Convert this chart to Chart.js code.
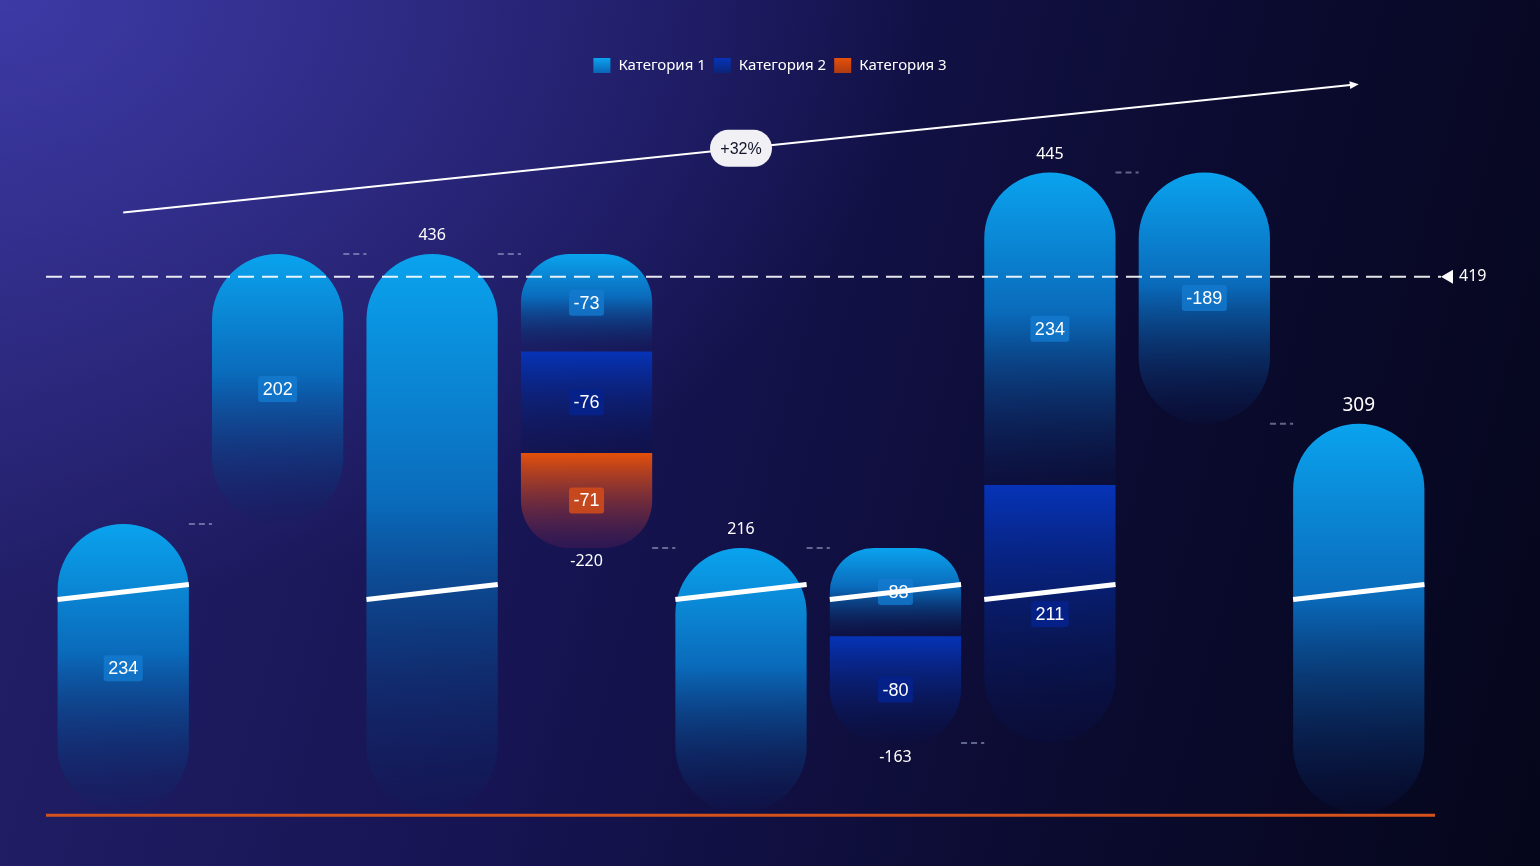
<!DOCTYPE html>
<html lang="ru">
<head>
<meta charset="utf-8">
<title>Водопад по категориям</title>
<script src="https://cdn.jsdelivr.net/npm/chart.js@4.4.1/dist/chart.umd.min.js"></script>
<style>
  html, body { margin: 0; padding: 0; }
  body {
    width: 1540px;
    height: 866px;
    overflow: hidden;
    background:
      radial-gradient(ellipse 60% 70% at 0% 0%, rgba(72, 68, 190, 0.7) 0%, rgba(72, 68, 190, 0) 100%),
      linear-gradient(105deg, #24216c 0%, #161452 40%, #0b0b30 72%, #05061b 100%);
  }
</style>
</head>
<body>
<canvas id="waterfall" width="1540" height="866"></canvas>
<script>
// columns of the waterfall (no axis labels are shown on the picture)
const categories = ['Старт', 'Рост', 'Итог 1', 'Снижение', 'Итог 2', 'Снижение 2', 'Рост 2', 'Снижение 3', 'Итог 3'];

// bar segments as [from, to] (lower part of totals is cut by the axis break)
const cat1Ranges = [[18, 234], [234, 436], [18, 436], [363, 436], [18, 216], [150, 216], [263, 497], [309, 497], [18, 309]];
const cat2Ranges = [null, null, null, [287, 363], null, [70, 150], [70, 263], null, null];
const cat3Ranges = [null, null, null, [216, 287], null, null, null, null, null];

// values written inside the segments
const cat1Labels = ['234', '202', null, '-73', null, '-83', '234', '-189', null];
const cat2Labels = [null, null, null, '-76', null, '-80', '211', null, null];
const cat3Labels = [null, null, null, '-71', null, null, null, null, null];

// totals written above / below the columns
const totalsAbove = [null, null, '436', null, '216', null, '445', null, '309'];
const totalsBelow = [null, null, null, '-220', null, '-163', null, null, null];

// dashed connectors between neighbouring columns
const connectorLevels = [234, 436, 436, 216, 216, 70, 497, 309];

// axis break marks
const breakColumns = [0, 2, 4, 5, 6, 8];
const breakLevel = 183;

// reference line and trend arrow
const refLevel = 419;
const refLabel = '419';
const trendLevels = [467, 563];
const trendLabel = '+32%';
const baseLevel = 16;

const seriesNames = ['Категория 1', 'Категория 2', 'Категория 3'];

const cat1Stops = [[0, '#0aa3ee'], [0.45, '#0a6aba'], [1, 'rgba(10, 36, 96, 0.12)']];
const cat2Stops = [[0, '#0634b8'], [1, 'rgba(8, 18, 70, 0.25)']];
const cat3Stops = [[0, '#e4500a'], [1, 'rgba(80, 30, 90, 0.4)']];
const boxColors = ['rgba(20, 122, 208, 0.8)', 'rgba(6, 34, 140, 0.9)', 'rgba(210, 76, 26, 0.88)'];
const segLabels = [cat1Labels, cat2Labels, cat3Labels];
const allRanges = [cat1Ranges, cat2Ranges, cat3Ranges];

const numFont = '"Liberation Sans", Arial, sans-serif';
const textFont = '"Noto Sans", "Open Sans", sans-serif';

function colTop(i) {
  return Math.max(...allRanges.filter(r => r[i]).map(r => r[i][1]));
}
function colBottom(i) {
  return Math.min(...allRanges.filter(r => r[i]).map(r => r[i][0]));
}

function barFill(stops) {
  return (ctx) => {
    const chart = ctx.chart;
    const r = ctx.raw;
    if (!chart.chartArea || !Array.isArray(r)) return stops[0][1];
    const y = chart.scales.y;
    const g = chart.ctx.createLinearGradient(0, y.getPixelForValue(r[1]), 0, y.getPixelForValue(r[0]));
    stops.forEach(s => g.addColorStop(s[0], s[1]));
    return g;
  };
}

function pillRadius(ctx) {
  const r = ctx.raw;
  if (!Array.isArray(r)) return 0;
  const i = ctx.dataIndex;
  const top = r[1] === colTop(i) ? 70 : 0;
  const bottom = r[0] === colBottom(i) ? 70 : 0;
  return { topLeft: top, topRight: top, bottomLeft: bottom, bottomRight: bottom };
}

const decor = {
  id: 'decor',
  beforeDatasetsDraw(chart) {
    const { ctx, chartArea, scales: { y } } = chart;
    const bars = chart.getDatasetMeta(0).data;
    ctx.save();
    // orange base line
    ctx.strokeStyle = '#d4521c';
    ctx.lineWidth = 3;
    ctx.beginPath();
    ctx.moveTo(chartArea.left, y.getPixelForValue(baseLevel));
    ctx.lineTo(chartArea.right - 1, y.getPixelForValue(baseLevel));
    ctx.stroke();
    // connectors
    ctx.strokeStyle = 'rgba(170, 175, 210, 0.55)';
    ctx.lineWidth = 2;
    ctx.setLineDash([6, 4]);
    connectorLevels.forEach((lvl, i) => {
      const py = y.getPixelForValue(lvl);
      ctx.beginPath();
      ctx.moveTo(bars[i].x + bars[i].width / 2, py);
      ctx.lineTo(bars[i + 1].x - bars[i + 1].width / 2, py);
      ctx.stroke();
    });
    ctx.restore();
  },
  afterDatasetsDraw(chart) {
    const { ctx, chartArea, scales: { y } } = chart;
    const bars = chart.getDatasetMeta(0).data;
    ctx.save();
    ctx.textAlign = 'center';
    ctx.textBaseline = 'middle';

    // segment labels in boxes
    ctx.font = '18px ' + numFont;
    segLabels.forEach((labels, d) => {
      const meta = chart.getDatasetMeta(d);
      labels.forEach((txt, i) => {
        if (!txt) return;
        const el = meta.data[i];
        const cy = (el.y + el.base) / 2;
        const w = ctx.measureText(txt).width + 9;
        ctx.fillStyle = boxColors[d];
        ctx.beginPath();
        ctx.roundRect(el.x - w / 2, cy - 13, w, 26, 3);
        ctx.fill();
        ctx.fillStyle = '#ffffff';
        ctx.fillText(txt, el.x, cy + 1);
      });
    });

    // axis break slashes
    ctx.strokeStyle = '#ffffff';
    ctx.lineWidth = 5;
    breakColumns.forEach(i => {
      const el = bars[i];
      const py = y.getPixelForValue(breakLevel);
      ctx.beginPath();
      ctx.moveTo(el.x - el.width / 2, py + 7.5);
      ctx.lineTo(el.x + el.width / 2, py - 7.5);
      ctx.stroke();
    });

    // totals above / below
    ctx.fillStyle = '#ffffff';
    totalsAbove.forEach((txt, i) => {
      if (!txt) return;
      ctx.font = (i === totalsAbove.length - 1 ? '19px ' : '16px ') + textFont;
      ctx.fillText(txt, bars[i].x, y.getPixelForValue(colTop(i)) - 18);
    });
    ctx.font = '16px ' + textFont;
    totalsBelow.forEach((txt, i) => {
      if (!txt) return;
      ctx.fillText(txt, bars[i].x, y.getPixelForValue(colBottom(i)) + 14);
    });

    // reference line
    const ry = y.getPixelForValue(refLevel);
    const rx = chartArea.right + 5;
    ctx.strokeStyle = 'rgba(255, 255, 255, 0.9)';
    ctx.lineWidth = 2;
    ctx.setLineDash([16, 8]);
    ctx.beginPath();
    ctx.moveTo(chartArea.left, ry);
    ctx.lineTo(rx, ry);
    ctx.stroke();
    ctx.setLineDash([]);
    ctx.fillStyle = '#ffffff';
    ctx.beginPath();
    ctx.moveTo(rx, ry);
    ctx.lineTo(rx + 12, ry - 7);
    ctx.lineTo(rx + 12, ry + 7);
    ctx.closePath();
    ctx.fill();
    ctx.textAlign = 'left';
    ctx.fillText(refLabel, rx + 18, ry);

    // trend arrow
    const x0 = bars[0].x, y0 = y.getPixelForValue(trendLevels[0]);
    const x1 = bars[bars.length - 1].x, y1 = y.getPixelForValue(trendLevels[1]);
    const ang = Math.atan2(y1 - y0, x1 - x0);
    ctx.strokeStyle = '#ffffff';
    ctx.lineWidth = 2;
    ctx.beginPath();
    ctx.moveTo(x0, y0);
    ctx.lineTo(x1 - 6 * Math.cos(ang), y1 - 6 * Math.sin(ang));
    ctx.stroke();
    ctx.save();
    ctx.translate(x1, y1);
    ctx.rotate(ang);
    ctx.beginPath();
    ctx.moveTo(0, 0);
    ctx.lineTo(-9, -4);
    ctx.lineTo(-9, 4);
    ctx.closePath();
    ctx.fill();
    ctx.restore();
    const mx = bars[4].x, my = y0 + (y1 - y0) * (mx - x0) / (x1 - x0);
    ctx.fillStyle = '#f1f1f5';
    ctx.beginPath();
    ctx.roundRect(mx - 31, my - 18.5, 62, 37, 18.5);
    ctx.fill();
    ctx.fillStyle = '#14142a';
    ctx.textAlign = 'center';
    ctx.font = '16px ' + numFont;
    ctx.fillText(trendLabel, mx, my + 1);

    // legend
    const stops = [cat1Stops, cat2Stops, cat3Stops];
    ctx.font = '15px ' + textFont;
    const widths = seriesNames.map(n => ctx.measureText(n).width);
    const total = widths.reduce((a, b) => a + b, 0) + seriesNames.length * 25 + (seriesNames.length - 1) * 8;
    let lx = chart.width / 2 - total / 2;
    const ly = 65;
    ctx.textAlign = 'left';
    seriesNames.forEach((n, k) => {
      const g = ctx.createLinearGradient(0, ly - 7, 0, ly + 8);
      g.addColorStop(0, stops[k][0][1]);
      g.addColorStop(1, k === 0 ? '#0a64b6' : (k === 1 ? '#0a2478' : '#b03a12'));
      ctx.fillStyle = g;
      ctx.fillRect(lx, ly - 7, 17, 15);
      ctx.fillStyle = '#ffffff';
      ctx.fillText(n, lx + 25, ly + 1);
      lx += 25 + widths[k] + 8;
    });
    ctx.restore();
  }
};

new Chart(document.getElementById('waterfall'), {
  type: 'bar',
  data: {
    labels: categories,
    datasets: [
      { label: seriesNames[0], data: cat1Ranges, backgroundColor: barFill(cat1Stops) },
      { label: seriesNames[1], data: cat2Ranges, backgroundColor: barFill(cat2Stops) },
      { label: seriesNames[2], data: cat3Ranges, backgroundColor: barFill(cat3Stops) }
    ]
  },
  options: {
    responsive: false,
    animation: false,
    events: [],
    layout: { padding: { left: 46, right: 104, top: 0, bottom: 0 } },
    datasets: {
      bar: {
        barPercentage: 0.85,
        categoryPercentage: 1,
        borderSkipped: false,
        borderRadius: pillRadius
      }
    },
    scales: {
      x: { display: false, stacked: true },
      y: { display: false, stacked: false, min: -22, max: 626 }
    },
    plugins: {
      legend: { display: false },
      tooltip: { enabled: false }
    }
  },
  plugins: [decor]
});
</script>
</body>
</html>
